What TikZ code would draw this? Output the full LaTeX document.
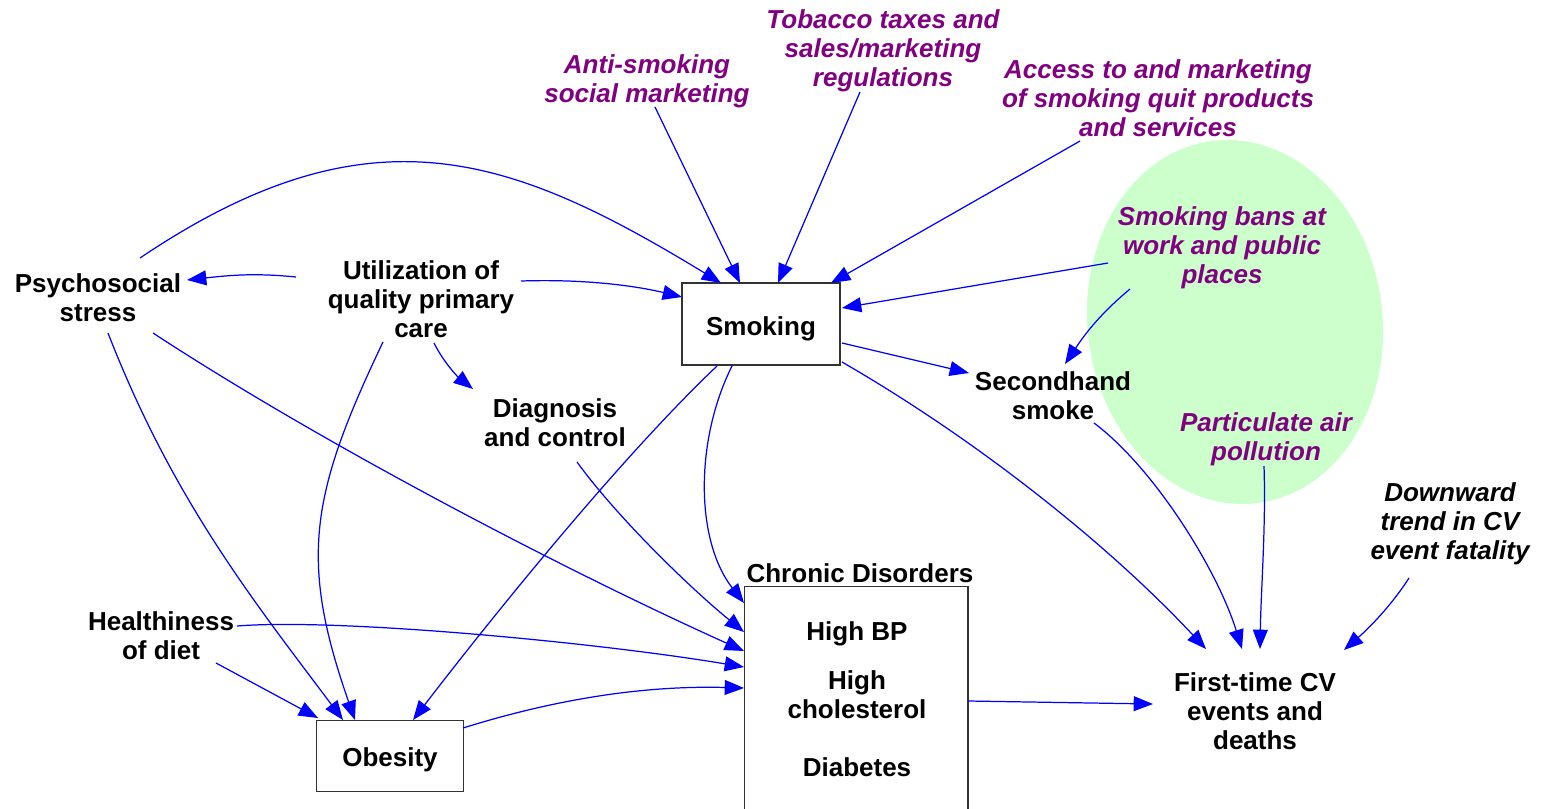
\documentclass[tikz,border=0pt]{standalone}
\usepackage{fontspec}
\setmainfont{Liberation Sans}
\usetikzlibrary{arrows.meta,calc}
\definecolor{purp}{HTML}{800080}
\definecolor{halo}{HTML}{CCFFCC}
\begin{document}
\begin{tikzpicture}[x=0.02cm,y=-0.02cm,
  lbl/.style={font=\bfseries\fontsize{14.8}{16.5}\selectfont, align=center, inner sep=0pt},
  pol/.style={font=\bfseries\itshape\fontsize{14.8}{16.5}\selectfont, align=center, inner sep=0pt, text=purp},
  ext/.style={font=\bfseries\itshape\fontsize{14.8}{16.5}\selectfont, align=center, inner sep=0pt},
  box/.style={draw=black!80, line width=0.6pt, fill=white},
  arr/.style={draw=blue, line width=0.7pt, -{Triangle[length=11pt,width=8.5pt]}}]
\useasboundingbox (0,0) rectangle (1544,808);
\clip (0,0) rectangle (1544,808);

% shaded region around the environmental factors
\fill[halo, rotate around={7:(1235,322)}] (1235,322) ellipse [x radius=2.95cm, y radius=3.65cm];

% boxes
\node[box, minimum width=3.16cm, minimum height=1.64cm] (smk) at (761,324) {};
\node[lbl] at (761,329) {Smoking};
\node[box, minimum width=2.94cm, minimum height=1.42cm] (obes) at (390,756) {};
\node[lbl] at (390,760) {Obesity};
\node[box, minimum width=4.48cm, minimum height=6.28cm] (chr) at (856,743) {};
\node[lbl] (chrl) at (860,573) {Chronic Disorders};
\node[lbl] (bp) at (857,634) {High BP};
\node[lbl] (chol) at (857,695) {High\\cholesterol};
\node[lbl] (diab) at (857,767) {Diabetes};

% factors
\node[lbl] (psy) at (98,298) {Psychosocial\\stress};
\node[lbl] (util) at (421,299) {Utilization of\\quality primary\\care};
\node[lbl] (diag) at (555,423) {Diagnosis\\and control};
\node[lbl] (diet) at (161,636) {Healthiness\\of diet};
\node[lbl] (second) at (1053,396) {Secondhand\\smoke};
\node[lbl] (first) at (1255,711) {First-time CV\\events and\\deaths};
\node[ext] (down) at (1450,524) {Downward\\trend in CV\\event fatality};

% policies
\node[pol] (anti) at (647,81) {Anti-smoking\\social marketing};
\node[pol] (tob) at (883,51) {Tobacco taxes and\\sales/marketing\\regulations};
\node[pol] (acc) at (1158,98) {Access to and marketing\\of smoking quit products\\and services};
\node[pol] (bans) at (1222,248) {Smoking bans at\\work and public\\places};
\node[pol] (part) at (1266,439) {Particulate air\\pollution};

% connectors
\draw[arr] ($(psy)+(42,-40)$) .. controls +(230,-155) and +(-210,-128) .. ($(smk)+(-40,-41)$);
\draw[arr] ($(util)+(-125,-22)$) .. controls +(-40,-4) and +(45,-5) .. ($(psy)+(89,-18)$);
\draw[arr] ($(util)+(100,-18)$) .. controls +(60,-2) and +(-50,-12) .. ($(smk)+(-79,-27)$);
\draw[arr] ($(util)+(13,44)$) .. controls +(10,20) and +(-15,-12) .. ($(diag)+(-82,-34)$);
\draw[arr] ($(util)+(-38,43)$) .. controls +(-73,153) and +(-56,-160) .. ($(obes)+(-35,-36)$);
\draw[arr] ($(psy)+(10,35)$) .. controls +(65,167) and +(-90,-120) .. ($(obes)+(-47,-36)$);
\draw[arr] ($(psy)+(55,35)$) .. controls +(168,110) and +(-182,-82) .. ($(chr)+(-112,-92)$);
\draw[arr] ($(diet)+(55,27)$) -- ($(obes)+(-72,-38)$);
\draw[arr] ($(diet)+(76,-10)$) .. controls +(100,-8) and +(-150,-25) .. ($(chr)+(-112,-76)$);
\draw[arr] ($(obes)+(73,-28)$) .. controls +(80,-25) and +(-110,-3) .. ($(chr)+(-112,-55)$);
\draw[arr] ($(smk)+(-44,42)$) .. controls +(-100,95) and +(73,-95) .. ($(obes)+(23,-36)$);
\draw[arr] ($(smk)+(-29,42)$) .. controls +(-37,74) and +(-49,-63) .. ($(chr)+(-112,-140)$);
\draw[arr] ($(diag)+(22,39)$) .. controls +(40,55) and +(-55,-45) .. ($(chr)+(-112,-111)$);
\draw[arr] ($(smk)+(81,19)$) -- ($(second)+(-84,-23)$);
\draw[arr] ($(smk)+(81,38)$) .. controls +(130,75) and +(-102,-109) .. ($(first)+(-49,-62)$);
\draw[arr] ($(anti)+(8,26)$) -- ($(smk)+(-21,-41)$);
\draw[arr] ($(tob)+(-23,41)$) -- ($(smk)+(17,-41)$);
\draw[arr] ($(acc)+(-78,43)$) -- ($(smk)+(70,-41)$);
\draw[arr] ($(bans)+(-114,15)$) -- ($(smk)+(81,-16)$);
\draw[arr] ($(bans)+(-92,41)$) .. controls +(-30,25) and +(20,-30) .. ($(second)+(12,-32)$);
\draw[arr] ($(second)+(41,27)$) .. controls +(60,45) and +(-25,-80) .. ($(first)+(-13,-62)$);
\draw[arr] ($(part)+(-2,27)$) .. controls +(2,60) and +(1,-60) .. ($(first)+(5,-62)$);
\draw[arr] ($(down)+(-41,54)$) .. controls +(-18,28) and +(25,-22) .. ($(first)+(89,-61)$);
\draw[arr] ($(chr)+(112,-42)$) -- ($(first)+(-102,-7)$);
\end{tikzpicture}
\end{document}
